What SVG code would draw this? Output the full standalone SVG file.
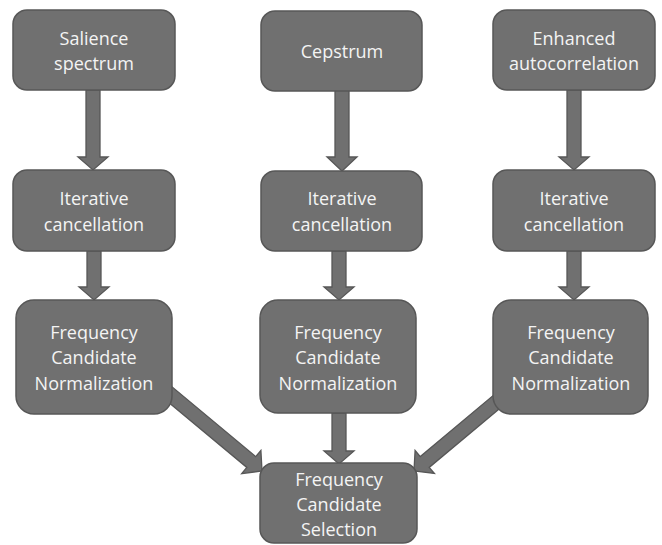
<svg xmlns="http://www.w3.org/2000/svg" width="662" height="545" viewBox="0 0 662 545">
<style>
.box{fill:#707070;stroke:#575757;stroke-width:1.5}
.arr{fill:#707070;stroke:#575757;stroke-width:1.3;stroke-linejoin:miter}
.t{font-family:"Open Sans","Liberation Sans",sans-serif;font-size:18px;fill:#f4f4f4;text-anchor:middle}
</style>
<rect width="662" height="545" fill="#ffffff"/>
<g id="connectors">
<polygon class="arr" points="86,90 100,90 100,157 108,157 93,170 78,157 86,157"/>
<polygon class="arr" points="87,251 101,251 101,287 109,287 94,300 79,287 87,287"/>
<polygon class="arr" points="335,90 349,90 349,157 357,157 342,171 327,157 335,157"/>
<polygon class="arr" points="332,251 346,251 346,287 354,287 339,300 324,287 332,287"/>
<polygon class="arr" points="332,413 346,413 346,451 354,451 339,464 324,451 332,451"/>
<polygon class="arr" points="567,90 581,90 581,157 589,157 574,170 559,157 567,157"/>
<polygon class="arr" points="567,251 581,251 581,287 589,287 574,300 559,287 567,287"/>
<polygon class="arr" points="155.5,391.4 246.8,467.4 241.7,473.6 262,471 260.9,450.5 255.7,456.7 164.5,380.6"/>
<polygon class="arr" points="510.5,399.4 429.2,467.4 434.4,473.5 414,471 415.1,450.5 420.3,456.6 501.5,388.6"/>
</g>
<g id="salience">
<rect class="box" x="13" y="10" width="162" height="80" rx="14"/>
<text class="t" x="94" y="45">Salience</text>
<text class="t" x="94" y="70">spectrum</text>
</g>
<g id="cepstrum">
<rect class="box" x="261" y="11" width="161" height="80" rx="14"/>
<text class="t" x="342" y="58">Cepstrum</text>
</g>
<g id="enhanced">
<rect class="box" x="493" y="10" width="162" height="80" rx="14"/>
<text class="t" x="574" y="45">Enhanced</text>
<text class="t" x="574" y="70">autocorrelation</text>
</g>
<g id="iter1">
<rect class="box" x="13" y="170" width="162" height="81" rx="14"/>
<text class="t" x="94" y="205">Iterative</text>
<text class="t" x="94" y="231">cancellation</text>
</g>
<g id="iter2">
<rect class="box" x="261" y="171" width="161" height="80" rx="14"/>
<text class="t" x="342" y="205">Iterative</text>
<text class="t" x="342" y="231">cancellation</text>
</g>
<g id="iter3">
<rect class="box" x="493" y="170" width="162" height="81" rx="14"/>
<text class="t" x="574" y="205">Iterative</text>
<text class="t" x="574" y="231">cancellation</text>
</g>
<g id="norm1">
<rect class="box" x="16" y="300" width="156" height="114" rx="18"/>
<text class="t" x="94" y="339">Frequency</text>
<text class="t" x="94" y="364">Candidate</text>
<text class="t" x="94" y="390">Normalization</text>
</g>
<g id="norm2">
<rect class="box" x="260" y="300" width="156" height="113" rx="18"/>
<text class="t" x="338" y="339">Frequency</text>
<text class="t" x="338" y="364">Candidate</text>
<text class="t" x="338" y="390">Normalization</text>
</g>
<g id="norm3">
<rect class="box" x="493" y="300" width="155" height="114" rx="18"/>
<text class="t" x="571" y="339">Frequency</text>
<text class="t" x="571" y="364">Candidate</text>
<text class="t" x="571" y="390">Normalization</text>
</g>
<g id="selection">
<rect class="box" x="260" y="463" width="157" height="80" rx="14"/>
<text class="t" x="339" y="486">Frequency</text>
<text class="t" x="339" y="511">Candidate</text>
<text class="t" x="339" y="536">Selection</text>
</g>
</svg>
